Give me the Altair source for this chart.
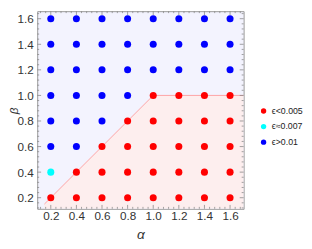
import altair as alt
import pandas as pd
import numpy as np

# ---- data ----
alpha_vals = [0.2, 0.4, 0.6, 0.8, 1.0, 1.2, 1.4, 1.6]
beta_vals = [1.6, 1.4, 1.2, 1.0, 0.8, 0.6, 0.4, 0.2]
# status per row (beta from 1.6 down to 0.2), columns alpha 0.2..1.6
# R: eps<0.005, C: eps~0.007, B: eps>0.01
status_rows = [
    "BBBBBBBB",
    "BBBBBBBB",
    "BBBBBBBB",
    "BBBBRRRR",
    "BBBRRRRR",
    "BBRRRRRR",
    "CRRRRRRR",
    "RRRRRRRR",
]
labels = {"R": "ϵ<0.005", "C": "ϵ≈0.007", "B": "ϵ>0.01"}
legend_order = ["ϵ<0.005", "ϵ≈0.007", "ϵ>0.01"]
legend_colors = ["#ff0000", "#00ffff", "#0000ff"]

boundary_x = [0.15, 1.0, 1.706]
boundary_y = [0.15, 1.0, 1.0]

x_ticks = [0.2, 0.4, 0.6, 0.8, 1.0, 1.2, 1.4, 1.6]
y_ticks = [0.2, 0.4, 0.6, 0.8, 1.0, 1.2, 1.4, 1.6]

X_DOM = [0.094, 1.706]
Y_DOM = [0.113, 1.659]
W, H = 212, 203

# ---- tables ----
rows = []
for b, srow in zip(beta_vals, status_rows):
    for a, s in zip(alpha_vals, srow):
        rows.append({"alpha": a, "beta": b, "eps": labels[s]})
pts = pd.DataFrame(rows)

bnd = pd.DataFrame({"x": boundary_x, "y": boundary_y, "y0": [Y_DOM[0]] * 3})

minor_x = [round(v, 2) for v in np.arange(0.12, 1.70, 0.04) if round(v, 2) not in x_ticks]
minor_y = [round(v, 2) for v in np.arange(0.12, 1.66, 0.04) if round(v, 2) not in y_ticks]
tx_major = pd.DataFrame({"v": x_ticks})
tx_minor = pd.DataFrame({"v": minor_x})
ty_major = pd.DataFrame({"v": y_ticks})
ty_minor = pd.DataFrame({"v": minor_y})

xs = alt.Scale(domain=X_DOM, nice=False, zero=False)
ys = alt.Scale(domain=Y_DOM, nice=False, zero=False)

FONT = "Liberation Sans"

XAX = alt.Axis(values=x_ticks, format=".1f", title="α", ticks=False, tickSize=0,
               domain=False, grid=False, labelFontSize=12, labelColor="#333",
               labelFont=FONT, labelPadding=2, labelOverlap=False, labelFlush=False,
               titleFont=FONT, titleFontSize=14,
               titleFontStyle="italic", titleFontWeight="normal", titleColor="#333",
               titlePadding=6)
YAX = alt.Axis(values=y_ticks, format=".1f", title="β", ticks=False, tickSize=0,
               domain=False, grid=False, labelFontSize=12, labelColor="#333",
               labelFont=FONT, labelPadding=4, labelOverlap=False, labelFlush=False,
               titleFont=FONT, titleFontSize=12, titleX=-17, titleY=102,
               titleFontStyle="italic", titleFontWeight="normal", titleColor="#333")

area = alt.Chart(bnd).mark_area(color="#fdeeee", opacity=1, clip=True).encode(
    x=alt.X("x:Q", scale=xs, axis=XAX),
    y=alt.Y("y:Q", scale=ys, axis=YAX),
    y2="y0:Q",
)

line = alt.Chart(bnd).mark_line(color="#ff9090", strokeWidth=0.8, clip=True).encode(
    x=alt.X("x:Q", scale=xs, axis=XAX), y=alt.Y("y:Q", scale=ys, axis=YAX)
)

points = alt.Chart(pts).mark_circle(size=52, opacity=1).encode(
    x=alt.X("alpha:Q", scale=xs, axis=XAX),
    y=alt.Y("beta:Q", scale=ys, axis=YAX),
    color=alt.Color("eps:N", scale=alt.Scale(domain=legend_order, range=legend_colors),
                    legend=alt.Legend(title=None, orient="none", legendX=228, legendY=98,
                                      symbolSize=30, symbolType="circle", labelFont=FONT,
                                      labelFontSize=9, labelColor="#222", rowPadding=6,
                                      labelOffset=4)),
)

TICK_C = "#888"
def xt(df, y_from, y_to):
    return alt.Chart(df).mark_rule(color=TICK_C, strokeWidth=0.8).encode(
        x=alt.X("v:Q", scale=xs, axis=XAX), y=alt.value(y_from), y2=alt.value(y_to))

def yt(df, x_from, x_to):
    return alt.Chart(df).mark_rule(color=TICK_C, strokeWidth=0.8).encode(
        y=alt.Y("v:Q", scale=ys, axis=YAX), x=alt.value(x_from), x2=alt.value(x_to))

ticks = [
    xt(tx_major, H, H - 4), xt(tx_minor, H, H - 2),
    xt(tx_major, 0, 4), xt(tx_minor, 0, 2),
    yt(ty_major, 0, 4), yt(ty_minor, 0, 2),
    yt(ty_major, W, W - 4), yt(ty_minor, W, W - 2),
]

chart = alt.layer(area, line, *ticks, points).properties(
    width=W, height=H,
    autosize=alt.AutoSizeParams(type="none"),
    padding={"left": 30, "top": 0, "right": 62, "bottom": 38},
).configure_view(fill="#f3f3fe", stroke="#999", strokeWidth=1
).configure_axis(labelOverlap=False)

chart.save("out.html", embed_options={"renderer": "svg", "actions": False})
